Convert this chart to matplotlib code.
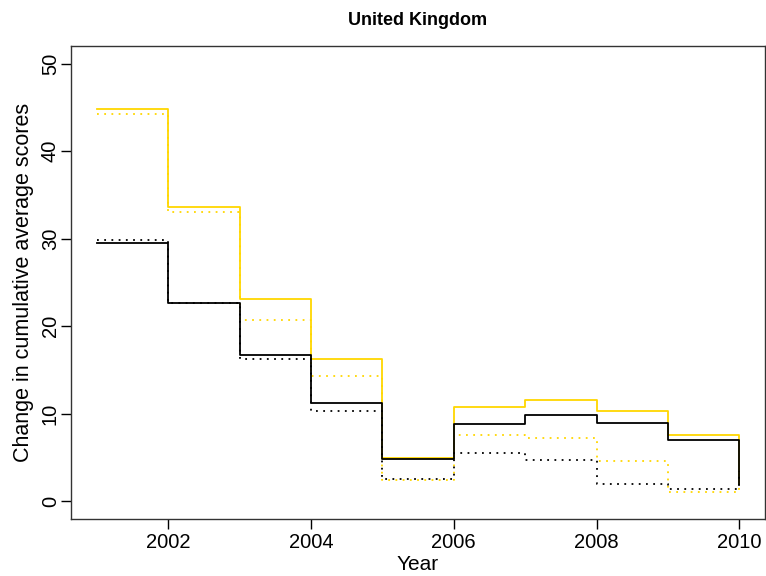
import matplotlib
matplotlib.use("Agg")
import matplotlib.pyplot as plt

years = [2001, 2002, 2003, 2004, 2005, 2006, 2007, 2008, 2009, 2010]

gold_solid = [44.8, 33.6, 23.1, 16.3, 5.0, 10.8, 11.6, 10.3, 7.6, 2.0]
gold_dotted = [44.2, 33.0, 20.7, 14.3, 2.5, 7.6, 7.2, 4.6, 1.1, 3.5]
black_solid = [29.5, 22.7, 16.7, 11.3, 4.8, 8.9, 9.9, 9.0, 7.0, 2.0]
black_dotted = [29.8, 22.7, 16.3, 10.3, 2.6, 5.5, 4.7, 2.0, 1.4, 3.5]

x_ticks = [2002, 2004, 2006, 2008, 2010]
y_ticks = [0, 10, 20, 30, 40, 50]

plt.rcParams["font.family"] = ["Liberation Sans", "DejaVu Sans"]

fig = plt.figure(figsize=(7.66, 5.76), dpi=100)
ax = fig.add_axes([0.0927, 0.099, 0.906, 0.821])

gold = "#FFD700"
lw = 1.3
ax.plot(years, gold_solid, drawstyle="steps-post", color=gold, lw=lw)
ax.plot(years, gold_dotted, drawstyle="steps-post", color=gold, lw=lw,
        linestyle=(0, (1, 3)))
ax.plot(years, black_solid, drawstyle="steps-post", color="black", lw=lw)
ax.plot(years, black_dotted, drawstyle="steps-post", color="black", lw=lw,
        linestyle=(0, (1, 3)))

ax.set_xlim(2000.64, 2010.36)
ax.set_ylim(-2, 52)
ax.set_xticks(x_ticks)
ax.set_yticks(y_ticks)
ax.set_yticklabels([str(v) for v in y_ticks], rotation=90, va="center")
ax.tick_params(axis="both", direction="out", length=7, width=1, labelsize=14.5)
ax.tick_params(axis="y", pad=1)
ax.tick_params(axis="x", pad=3)

for s in ax.spines.values():
    s.set_linewidth(1)
    s.set_color("#333333")

ax.set_xlabel("Year", fontsize=15, labelpad=2)
ax.set_ylabel("Change in cumulative average scores", fontsize=15.5, labelpad=5)
ax.set_title("United Kingdom", fontsize=13, fontweight="bold", pad=15)

fig.savefig("out.png", dpi=100)
